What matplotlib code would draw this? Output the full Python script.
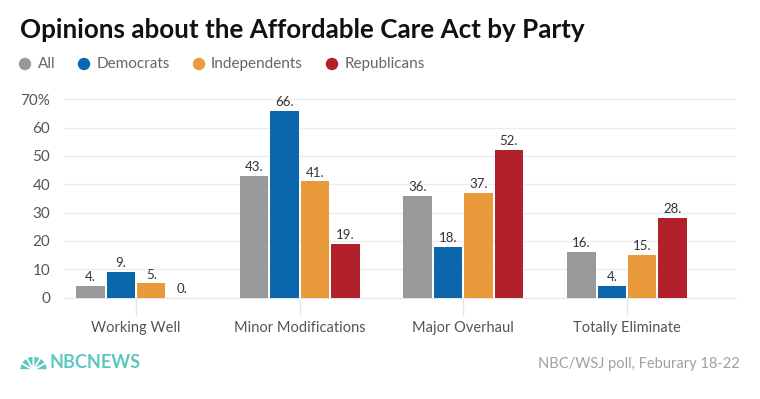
import matplotlib
matplotlib.use("Agg")
import matplotlib.pyplot as plt
from matplotlib.patches import Circle, Wedge
import numpy as np

categories = ["Working Well", "Minor Modifications", "Major Overhaul", "Totally Eliminate"]
series_names = ["All", "Democrats", "Independents", "Republicans"]
all_vals = [4, 43, 36, 16]
dem_vals = [9, 66, 18, 4]
ind_vals = [5, 41, 37, 15]
rep_vals = [0, 19, 52, 28]
yticks = [0, 10, 20, 30, 40, 50, 60, 70]
ytick_labels = ["0", "10", "20", "30", "40", "50", "60", "70%"]

colors = ["#999999", "#0b67ab", "#e99a3b", "#b1202b"]
series = [all_vals, dem_vals, ind_vals, rep_vals]

plt.rcParams['font.family'] = ['Lato', 'DejaVu Sans']

fig = plt.figure(figsize=(7.6, 3.99), dpi=100)
ax = fig.add_axes([64/760, 1-297.5/399, 672/760, (297.5-99.3)/399])

x = np.arange(len(categories))
bw = 0.186
for i, (vals, c) in enumerate(zip(series, colors)):
    pos = x + (i - 1.5) * bw
    ax.bar(pos, vals, width=bw - 0.012, color=c, zorder=3)
    for p, v in zip(pos, vals):
        ax.text(p, v + 1.0, f"{v}.", ha="center", va="bottom", fontsize=9.5,
                color="#333333", zorder=4)

ax.set_ylim(0, 70)
ax.set_xlim(-0.44, 3.666)
ax.set_yticks(yticks)
ax.set_yticklabels(ytick_labels, fontsize=11, color="#555555")
ax.set_xticks(x)
ax.set_xticklabels(categories, fontsize=10.5, color="#555555")
ax.tick_params(axis="y", length=0, pad=10)
ax.tick_params(axis="x", length=13, color="#e6e6e6", width=1, pad=4)
ax.grid(axis="y", color="#ececec", linewidth=1, zorder=0)
for s in ["top", "right", "left"]:
    ax.spines[s].set_visible(False)
ax.spines["bottom"].set_color("#e6e6e6")

# overlay in pixel coordinates for legend markers and logo
ov = fig.add_axes([0, 0, 1, 1], facecolor="none")
ov.set_xlim(0, 760)
ov.set_ylim(399, 0)
ov.axis("off")

fig.text(20/760, 1-30/399, "Opinions about the Affordable Care Act by Party",
         fontsize=18.7, fontweight="bold", color="#111111", va="center", ha="left")

leg_x = [25, 84, 199, 332]
txt_x = [38, 97, 211, 345]
for lx, tx, name, c in zip(leg_x, txt_x, series_names, colors):
    ov.add_patch(Circle((lx, 64), 5.5, color=c))
    fig.text(tx/760, 1-64/399, name, fontsize=11, color="#666666", va="center", ha="left")

# peacock-like fan
teal = "#5cc7bf"
n_f = 6
for k in range(n_f):
    a0 = 180 + 180 * k / n_f
    a1 = 180 + 180 * (k + 1) / n_f
    ov.add_patch(Wedge((33.5, 370), 14, a0, a1, facecolor=teal, edgecolor="white", linewidth=1.2))
fig.text(49/760, 1-363/399, "NBCNEWS", fontsize=13, fontweight="bold", color=teal,
         va="center", ha="left")
fig.text(740/760, 1-364/399, "NBC/WSJ poll, Feburary 18-22", fontsize=10.5, color="#a0a0a0",
         va="center", ha="right")

fig.savefig("out.png", dpi=100, facecolor="white")
